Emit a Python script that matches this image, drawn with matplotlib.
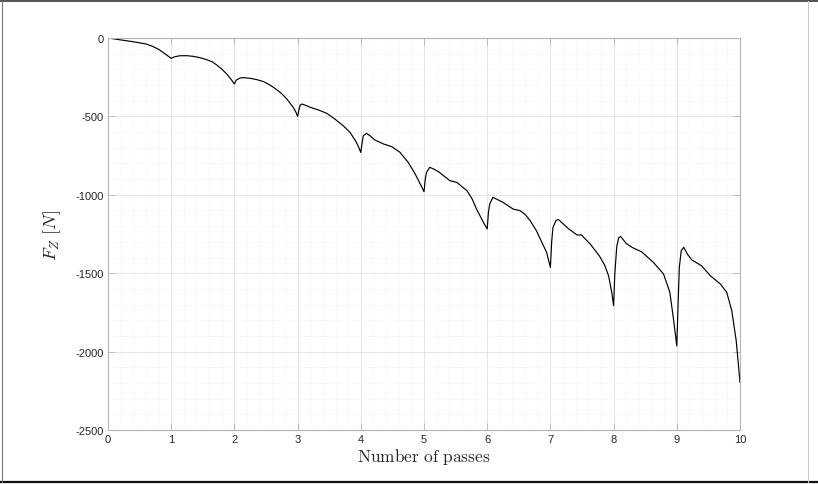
import numpy as np
import matplotlib
matplotlib.use("Agg")
import matplotlib.pyplot as plt
from matplotlib.lines import Line2D
from matplotlib.ticker import MultipleLocator

plt.rcParams["mathtext.fontset"] = "cm"
plt.rcParams["font.family"] = ["Liberation Sans", "DejaVu Sans"]
plt.rcParams["axes.unicode_minus"] = False

# Vertical force over the tool passes
passes = [
    0.00, 0.20, 0.40, 0.60, 0.70, 0.80, 0.90, 1.00,
    1.05, 1.14, 1.25, 1.35, 1.45, 1.56, 1.65, 1.72, 1.80, 1.88, 1.95, 2.00,
    2.03, 2.09, 2.15, 2.25, 2.35, 2.46, 2.55, 2.64, 2.74, 2.83, 2.93, 2.97, 3.00,
    3.02, 3.04, 3.07, 3.13, 3.20, 3.33, 3.46, 3.59, 3.72, 3.83, 3.93, 3.97, 4.00,
    4.02, 4.04, 4.09, 4.15, 4.22, 4.36, 4.49, 4.62, 4.75, 4.86, 4.94, 5.00,
    5.02, 5.04, 5.09, 5.15, 5.23, 5.41, 5.52, 5.68, 5.76, 5.83, 5.94, 6.00,
    6.02, 6.04, 6.09, 6.25, 6.41, 6.52, 6.60, 6.68, 6.78, 6.84, 6.94, 7.00,
    7.02, 7.04, 7.09, 7.13, 7.28, 7.42, 7.49, 7.63, 7.78, 7.86, 7.92, 7.97, 8.00,
    8.02, 8.05, 8.08, 8.11, 8.20, 8.29, 8.44, 8.63, 8.79, 8.89, 8.95, 9.00,
    9.02, 9.04, 9.07, 9.11, 9.17, 9.24, 9.39, 9.53, 9.69, 9.79, 9.87, 9.94, 10.00,
]
force_z = [
    0, -12, -24, -38, -52, -72, -100, -130,
    -120, -113, -113, -117, -125, -138, -152, -172, -198, -230, -265, -293,
    -268, -255, -253, -257, -265, -278, -297, -321, -352, -389, -442, -470, -500,
    -460, -428, -421, -430, -442, -459, -480, -517, -559, -602, -665, -700, -730,
    -670, -623, -608, -625, -650, -676, -693, -729, -793, -867, -931, -980,
    -900, -857, -825, -835, -853, -910, -921, -974, -1025, -1090, -1176, -1218,
    -1110, -1059, -1016, -1048, -1091, -1101, -1125, -1165, -1230, -1282, -1367, -1463,
    -1300, -1210, -1162, -1159, -1214, -1256, -1256, -1314, -1393, -1450, -1516, -1620, -1707,
    -1500, -1330, -1275, -1265, -1310, -1335, -1363, -1431, -1505, -1622, -1800, -1964,
    -1700, -1463, -1356, -1335, -1380, -1416, -1452, -1516, -1569, -1622, -1739, -1930, -2196,
]

x_ticks = list(range(0, 11))
y_ticks = [-2500, -2000, -1500, -1000, -500, 0]

W, H = 818, 485
fig = plt.figure(figsize=(W / 100, H / 100), dpi=100)
ax = fig.add_axes([108 / W, 1 - 431 / H, (740 - 108) / W, (431 - 39) / H])

ax.plot(passes, force_z, color="black", lw=0.85)

ax.set_xlim(0, 10)
ax.set_ylim(-2500, 0)
ax.set_xticks(x_ticks)
ax.set_yticks(y_ticks)
ax.xaxis.set_minor_locator(MultipleLocator(0.2))
ax.yaxis.set_minor_locator(MultipleLocator(100))

ax.grid(True, which="major", color="#e0e0e0", lw=0.6, ls="-")
ax.grid(True, which="minor", color="#e6e6e6", lw=0.5, ls=(0, (1, 2)))
ax.set_axisbelow(True)

for s in ax.spines.values():
    s.set_color("#b4b4b4")
    s.set_linewidth(0.8)
ax.tick_params(which="major", direction="in", length=5, width=0.6,
               color="#b4b4b4", top=True, right=True,
               labelsize=8, labelcolor="#262626", pad=3)
ax.tick_params(which="minor", length=0, top=True, right=True)

ax.set_xlabel(r"$\mathrm{Number\ of\ passes}$", fontsize=12.5, color="#262626", labelpad=1)
ax.set_ylabel(r"$F_Z\ [N]$", fontsize=13, color="#262626", labelpad=9)

# Figure frame
fig.add_artist(Line2D([0, 1], [1 - 2 / H, 1 - 2 / H], transform=fig.transFigure, color="#333333", lw=1.2))
fig.add_artist(Line2D([0, 1], [1 - 483 / H, 1 - 483 / H], transform=fig.transFigure, color="#111111", lw=1.6))
fig.add_artist(Line2D([2 / W, 2 / W], [1 - 483 / H, 1 - 2 / H], transform=fig.transFigure, color="#777777", lw=0.8))
fig.add_artist(Line2D([808 / W, 808 / W], [1 - 483 / H, 1 - 2 / H], transform=fig.transFigure, color="#cccccc", lw=0.8))

fig.savefig("out.png", dpi=100)
